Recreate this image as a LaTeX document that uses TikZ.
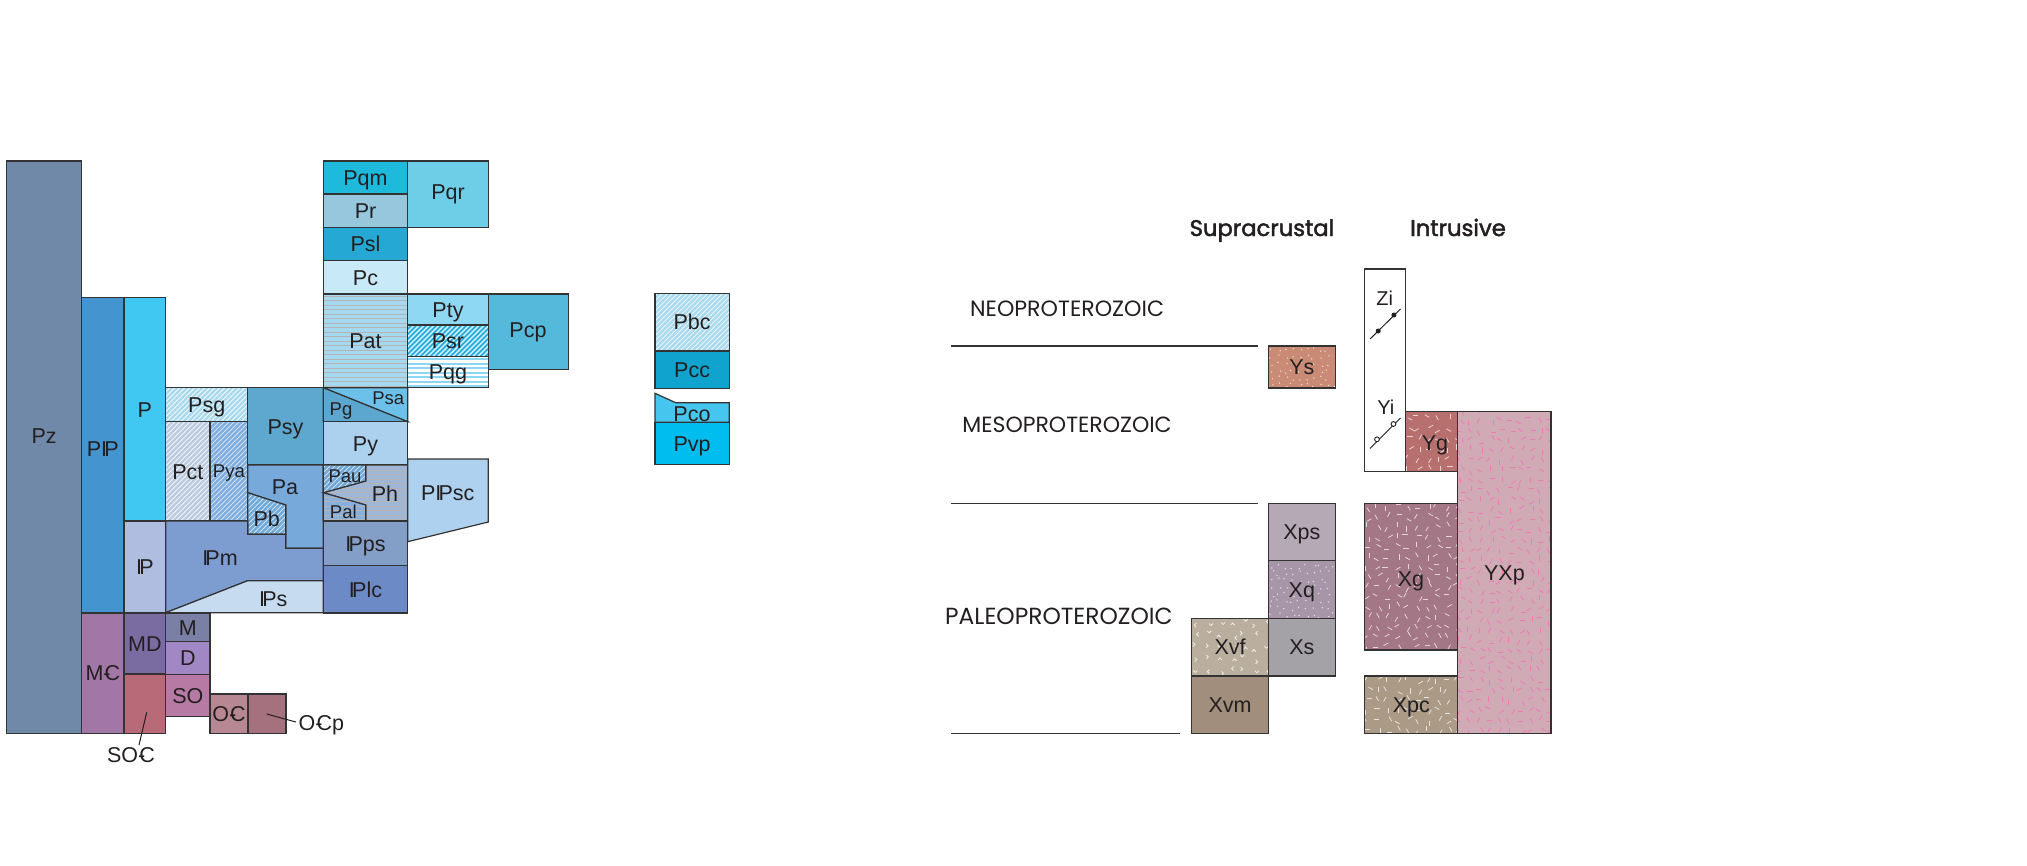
\documentclass[tikz,border=0pt]{standalone}
\usepackage{fontspec}
\usepackage{graphicx}
\setmainfont{Liberation Sans}
\newfontfamily\headfont{Poppins}
\newfontfamily\headfontmed[FakeBold=2]{Poppins}
\usetikzlibrary{calc}

% outline and text colours
\definecolor{ink}{HTML}{231F20}
\definecolor{edge}{HTML}{333333}
% Phanerozoic units
\definecolor{cPz}{HTML}{7089A9}
\definecolor{cPIP}{HTML}{4494D0}
\definecolor{cP}{HTML}{40C8F2}
\definecolor{cIP}{HTML}{AEBDE0}
\definecolor{cPsg}{HTML}{A9D9EE}
\definecolor{cPct}{HTML}{BBCADF}
\definecolor{cPya}{HTML}{7EADDF}
\definecolor{cPsy}{HTML}{5EA7CF}
\definecolor{cPa}{HTML}{77AADB}
\definecolor{cPb}{HTML}{6FA9DA}
\definecolor{cIPm}{HTML}{7D9DD1}
\definecolor{cIPs}{HTML}{C6DBF0}
\definecolor{cPqm}{HTML}{1DBADC}
\definecolor{cPr}{HTML}{96C7DD}
\definecolor{cPsl}{HTML}{25A9D4}
\definecolor{cPc}{HTML}{C8E9F8}
\definecolor{cPat}{HTML}{A5D9F0}
\definecolor{cPqr}{HTML}{6ECEE7}
\definecolor{cPty}{HTML}{8ED8F4}
\definecolor{cPsr}{HTML}{5EC6EC}
\definecolor{cPsrdark}{HTML}{22A9DC}
\definecolor{cPqg}{HTML}{8DD6F3}
\definecolor{cPcp}{HTML}{55B9DC}
\definecolor{cPg}{HTML}{5CA7CF}
\definecolor{cPsa}{HTML}{6CC1EA}
\definecolor{cPy}{HTML}{ABD1EE}
\definecolor{cPau}{HTML}{6EA6D6}
\definecolor{cPh}{HTML}{9FB6D6}
\definecolor{cPal}{HTML}{88B0DC}
\definecolor{cIPps}{HTML}{839FC7}
\definecolor{cIPlc}{HTML}{6B8AC6}
\definecolor{cPIPsc}{HTML}{ADD1EE}
\definecolor{cMC}{HTML}{A276A6}
\definecolor{cMD}{HTML}{7A6CA0}
\definecolor{cSOC}{HTML}{B86A78}
\definecolor{cM}{HTML}{7A80A5}
\definecolor{cD}{HTML}{A187C3}
\definecolor{cSO}{HTML}{B77AA5}
\definecolor{cOC}{HTML}{B78893}
\definecolor{cOCp}{HTML}{A6717F}
\definecolor{cPbc}{HTML}{A9D9EE}
\definecolor{cPcc}{HTML}{10A3CD}
\definecolor{cPco}{HTML}{46C6EF}
\definecolor{cPvp}{HTML}{00BDF0}
\definecolor{greyline}{HTML}{B4B4B4}
% Proterozoic units
\definecolor{cYs}{HTML}{C98B75}
\definecolor{cYg}{HTML}{B8706F}
\definecolor{cYXp}{HTML}{D0AAB5}
\definecolor{cYXpfleck}{HTML}{F07AB6}
\definecolor{cXps}{HTML}{B6A9B6}
\definecolor{cXq}{HTML}{A796A7}
\definecolor{cXs}{HTML}{A4A1A7}
\definecolor{cXvf}{HTML}{BAAF9F}
\definecolor{cXvm}{HTML}{A18E7C}
\definecolor{cXg}{HTML}{A37785}
\definecolor{cXpc}{HTML}{AA9A86}

% Pennsylvanian and Cambrian symbols
\newcommand\penn{I\kern-0.13em P}
\newcommand\camb{-\kern-0.28em C}

% box with a centred label: [style]{name}{x1}{y1}{x2}{y2}{text}
\newcommand\ubox[7][]{%
  \node[unit, minimum width={#5-#3}, minimum height={#6-#4}, #1] (#2)
    at ({(#3+#5)/2},{(#4+#6)/2}) {#7};}

\tikzset{
  lab/.style={font=\fontsize{21.5}{24}\selectfont, text=ink, inner sep=0pt,
    text height=15.4pt, text depth=0pt},
  slab/.style={font=\fontsize{18.5}{21}\selectfont, text=ink, inner sep=0pt,
    text height=13.2pt, text depth=0pt},
  zlab/.style={font=\fontsize{20}{23}\selectfont, text=ink, inner sep=0pt,
    text height=14.3pt, text depth=0pt},
  unit/.style={draw=edge, line width=1.2pt, lab},
  poly/.style={draw=edge, line width=1.2pt},
  rule/.style={draw=edge, line width=1.3pt},
  leader/.style={draw=ink, line width=1pt},
  head/.style={text=ink, inner sep=0pt, anchor=base west},
  % diagonal hatching
  dlines/.style 2 args={path picture={
    \foreach \k in {-150,-145,...,130}
      \draw[#1,line width=#2] ([xshift=\k pt]path picture bounding box.south west) -- ++(300pt,300pt);}},
  % two-tone diagonal hatching
  dlinestwo/.style 2 args={path picture={
    \foreach \k in {-150,-145,...,130}{
      \draw[#1,line width=1pt] ([xshift=\k pt]path picture bounding box.south west) -- ++(300pt,300pt);
      \draw[#2,line width=1pt] ([xshift=\k pt+2.5pt]path picture bounding box.south west) -- ++(300pt,300pt);}}},
  % horizontal ruling
  hlines/.style 2 args={path picture={
    \foreach \k in {1.5,6,...,140}
      \draw[#1,line width=#2] ([yshift=\k pt]path picture bounding box.south west) -- ++(200pt,0pt);}},
  % scattered short dashes (plutonic rocks)
  flecks/.style n args={3}{path picture={\pgfmathsetseed{#2}
    \foreach \gx in {3,13,...,103}{\foreach \gy in {3,13,...,#3}{
      \pgfmathsetmacro\fa{30*random(0,5)}
      \pgfmathsetmacro\fx{\gx+3*rand}
      \pgfmathsetmacro\fy{\gy+3*rand}
      \draw[#1,line width=0.8pt] ([shift={(\fx pt,\fy pt)}]path picture bounding box.south west)
        ++(\fa:2.6pt) -- ++(\fa+180:5.2pt);}}}},
  % scattered dots (sedimentary rocks)
  speckle/.style n args={3}{path picture={\pgfmathsetseed{#2}
    \foreach \gx in {3,10,...,73}{\foreach \gy in {3,10,...,#3}{
      \pgfmathsetmacro\fx{\gx+2.5*rand}
      \pgfmathsetmacro\fy{\gy+2.5*rand}
      \fill[#1] ([shift={(\fx pt,\fy pt)}]path picture bounding box.south west) circle (0.75pt);}}}},
  % scattered v marks (volcanic rocks)
  vmarks/.style n args={3}{path picture={\pgfmathsetseed{#2}
    \foreach \gx in {5,17,...,77}{\foreach \gy in {5,17,...,#3}{
      \pgfmathsetmacro\fa{90*random(0,3)}
      \pgfmathsetmacro\fx{\gx+3*rand}
      \pgfmathsetmacro\fy{\gy+3*rand}
      \draw[#1,line width=0.8pt] ([shift={(\fx pt,\fy pt)}]path picture bounding box.south west)
        ++(\fa+45:2.8pt) -- ++(\fa+225:2.8pt) -- ++(\fa-45:2.8pt);}}}},
}

\begin{document}
\begin{tikzpicture}[x=1pt,y=-1pt]
\useasboundingbox (0,0) rectangle (2027,865);

% ---------------- Phanerozoic chart ----------------
\ubox[fill=cPz]{pz}{6.7}{161}{81.7}{733.3}{}
\node[lab] (pzlab) at (44.2,436) {Pz};
\ubox[fill=cPIP]{pip}{81.7}{297.7}{124}{613}{}
\node[lab] (piplab) at (102.8,449) {P\penn};
\ubox[fill=cP]{p}{124}{297.7}{165.7}{521}{P}
\ubox[fill=cIP]{ip}{124}{521}{165.7}{613}{\penn}
\ubox[fill=cMC]{mc}{81.7}{613}{124}{733.3}{M\camb}
\ubox[fill=cMD]{md}{124}{613}{165.7}{674}{MD}
\ubox[fill=cSOC]{soc}{124}{674}{165.7}{733.3}{}
\ubox[fill=cM]{m}{165.7}{613}{210}{641.7}{M}
\ubox[fill=cD]{d}{165.7}{641.7}{210}{674.3}{D}
\ubox[fill=cSO]{so}{165.7}{674.3}{210}{716.7}{SO}
\ubox[fill=cOC]{oc}{210}{694}{248}{733.3}{O\camb}
\ubox[fill=cOCp]{ocp}{248}{694}{286}{733.3}{}

\ubox[fill=cPsg, dlines={white!85!cPsg}{0.9pt}]{psg}{165.7}{387.7}{247.7}{421.7}{Psg}
\ubox[fill=cPct, dlines={white!80!cPct}{0.9pt}]{pct}{165.7}{421.7}{210}{521}{Pct}
\ubox[fill=cPya, dlines={white!65!cPya}{0.9pt}, slab]{pya}{210}{421.7}{247.7}{521}{Pya}
\ubox[fill=cPsy]{psy}{247.7}{387.7}{323.3}{465}{Psy}

\path[poly, fill=cPa] (247.7,465) -- (323.3,465) -- (323.3,548.3) -- (285.7,548.3)
  -- (285.7,505) -- (247.7,492.7) -- cycle;
\node[lab] (pa) at (285,486.5) {Pa};
\path[poly, fill=cPb, dlines={white!65!cPb}{0.9pt}] (247.7,492.7) -- (285.7,505)
  -- (285.7,534.3) -- (247.7,534.3) -- cycle;
\node[lab] (pb) at (266.7,519) {Pb};
\path[poly, fill=cIPm] (165.7,521) -- (247.7,521) -- (247.7,534.3) -- (285.7,534.3)
  -- (285.7,548.3) -- (323.3,548.3) -- (323.3,580.7) -- (247.7,580.7) -- (165.7,612.7) -- cycle;
\node[lab] (ipm) at (220,557.3) {\penn m};
\path[poly, fill=cIPs] (165.7,612.7) -- (247.7,580.7) -- (323.3,580.7) -- (323.3,612.7) -- cycle;
\node[lab] (ips) at (273.3,598.3) {\penn s};

\ubox[fill=cPqm]{pqm}{323.3}{161}{407.7}{194}{Pqm}
\ubox[fill=cPr]{pr}{323.3}{194}{407.7}{227.7}{Pr}
\ubox[fill=cPsl]{psl}{323.3}{227.7}{407.7}{260.7}{Psl}
\ubox[fill=cPc]{pc}{323.3}{260.7}{407.7}{294}{Pc}
\ubox[fill=cPat, hlines={greyline}{1pt}]{pat}{323.3}{294}{407.7}{387.7}{Pat}
\ubox[fill=cPqr]{pqr}{407.7}{161}{488.3}{227.7}{}
\node[lab] (pqrlab) at (448,192) {Pqr};
\ubox[fill=cPty]{pty}{407.7}{294}{488.3}{325}{Pty}
\ubox[fill=cPsr, dlinestwo={white!80!cPsr}{cPsrdark}]{psr}{407.7}{325}{488.3}{356.7}{Psr}
\ubox[fill=white, hlines={cPqg}{2pt}]{pqg}{407.7}{356.7}{488.3}{387.7}{Pqg}
\ubox[fill=cPcp]{pcp}{488.3}{294}{568.7}{369.3}{}
\node[lab] (pcplab) at (528,330) {Pcp};

\path[poly, fill=cPsa] (323.3,387.7) -- (407.7,387.7) -- (407.7,421.7) -- cycle;
\path[poly, fill=cPg] (323.3,387.7) -- (407.7,421.7) -- (323.3,421.7) -- cycle;
\node[slab] (pg) at (341,409) {Pg};
\node[slab] (psa) at (388.3,398.3) {Psa};
\ubox[fill=cPy]{py}{323.3}{421.7}{407.7}{465}{Py}

\path[poly, fill=cPh, hlines={greyline}{1pt}] (365.7,465) -- (407.7,465) -- (407.7,521)
  -- (365.7,521) -- (365.7,505) -- (323.3,492.7) -- (365.7,481) -- cycle;
\path[poly, fill=cPau, dlines={white!65!cPau}{0.9pt}] (323.3,465) -- (365.7,465)
  -- (365.7,481) -- (323.3,492.7) -- cycle;
\path[poly, fill=cPal, hlines={greyline}{1pt}] (323.3,492.7) -- (365.7,505)
  -- (365.7,521) -- (323.3,521) -- cycle;
\node[slab] (pau) at (345,476) {Pau};
\node[slab] (pal) at (343.3,511.7) {Pal};
\node[lab] (ph) at (385,493.7) {Ph};
\ubox[fill=cIPps]{ipps}{323.3}{521}{407.7}{565.7}{\penn ps}
\ubox[fill=cIPlc]{iplc}{323.3}{565.7}{407.7}{613}{\penn lc}
\path[poly, fill=cPIPsc] (407.7,459) -- (488.3,459) -- (488.3,522) -- (407.7,541.7) -- cycle;
\node[lab] (pipsc) at (447.7,492.7) {P\penn sc};

\ubox[fill=cPbc, dlines={white!80!cPbc}{0.9pt}]{pbc}{655}{293.3}{729.3}{351}{Pbc}
\ubox[fill=cPcc]{pcc}{655}{351}{729.3}{388.3}{Pcc}
\path[poly, fill=cPco] (655,393.3) -- (675.7,402.7) -- (729.3,402.7) -- (729.3,422.3)
  -- (655,422.3) -- cycle;
\ubox[fill=cPvp]{pvp}{655}{422.3}{729.3}{464.3}{Pvp}
\node[lab] (pco) at (692,414) {Pco};

% leaders to labels outside their boxes
\coordinate (socin) at (146.7,712.3);
\coordinate (socend) at (139,745);
\node[lab] (soclab) at (131,754.7) {SO\camb};
\draw[leader] (socin) -- (socend);
\coordinate (ocpin) at (266.7,714);
\node[lab, anchor=west] (ocplab) at (298.5,722.7) {O\camb p};
\draw[leader, shorten >=2.5pt] (ocpin) -- (ocplab.west);

% ---------------- Proterozoic chart ----------------
\node[head] (supra) at (1189.5,236) {\resizebox{144.5pt}{!}{\headfontmed Supracrustal}};
\node[head] (intru) at (1410,236) {\resizebox{95.6pt}{!}{\headfontmed Intrusive}};
\node[head] (neo) at (969.9,316) {\resizebox{194pt}{!}{\headfont NEOPROTEROZOIC}};
\node[head] (meso) at (962.2,432.7) {\resizebox{209.3pt}{!}{\headfont MESOPROTEROZOIC}};
\node[head] (paleo) at (945,624) {\resizebox{227.5pt}{!}{\headfont PALEOPROTEROZOIC}};

\coordinate (r1a) at (950.7,346);   \coordinate (r1b) at (1257.6,346);
\coordinate (r2a) at (950.7,503.3); \coordinate (r2b) at (1257.6,503.3);
\coordinate (r3a) at (950.7,733.3); \coordinate (r3b) at (1180,733.3);
\draw[rule] (r1a) -- (r1b);
\draw[rule] (r2a) -- (r2b);
\draw[rule] (r3a) -- (r3b);

\ubox[fill=cYs, speckle={white!75!cYs}{11}{40}]{ys}{1268.4}{346}{1335.3}{388}{Ys}
\ubox[fill=cXps]{xps}{1268.4}{503.3}{1335.3}{560.7}{Xps}
\ubox[fill=cXq, speckle={white!75!cXq}{12}{56}]{xq}{1268.4}{560.7}{1335.3}{618.3}{Xq}
\ubox[fill=cXs]{xs}{1268.4}{618.3}{1335.3}{676}{Xs}
\ubox[fill=cXvf, vmarks={white!80!cXvf}{13}{56}]{xvf}{1191.7}{618.3}{1268.4}{676}{Xvf}
\ubox[fill=cXvm]{xvm}{1191.7}{676}{1268.4}{733.3}{Xvm}

\ubox[fill=white]{ziyi}{1364.8}{269}{1405.7}{471.7}{}
\node[zlab] (zi) at (1384.7,298.3) {Zi};
\node[zlab] (yi) at (1385.8,407.3) {Yi};
% dike symbols
\draw[leader] (1370,339) -- (1400.5,309);
\fill[ink] (1378.2,331) circle (2.5pt) (1393.9,315) circle (2.5pt);
\draw[leader] (1370,448.5) -- (1400.5,418);
\filldraw[draw=ink, fill=white, line width=0.9pt] (1377,439.3) circle (2.4pt) (1393.5,424) circle (2.4pt);

\ubox[fill=cYg, flecks={white!70!cYg}{21}{60}]{yg}{1405.7}{411.7}{1457.8}{471.7}{}
\node[lab] (yglab) at (1435,442.5) {Yg};
\ubox[fill=cYXp, flecks={cYXpfleck}{22}{323}]{yxp}{1457.8}{411.7}{1551}{733.3}{YXp}
\ubox[fill=cXg, flecks={white!70!cXg}{23}{150}]{xg}{1364.8}{503.3}{1457.8}{650}{}
\node[lab] (xglab) at (1411,579) {Xg};
\ubox[fill=cXpc, flecks={white!70!cXpc}{24}{60}]{xpc}{1364.8}{676}{1457.8}{733.3}{Xpc}
\end{tikzpicture}
\end{document}
